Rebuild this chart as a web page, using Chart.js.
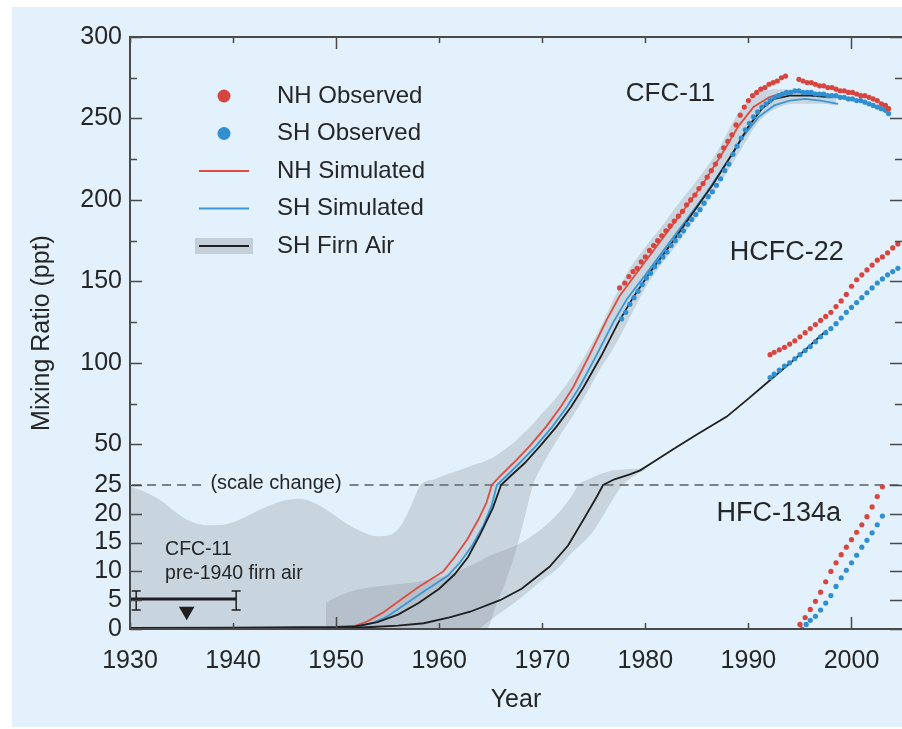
<!DOCTYPE html>
<html>
<head>
<meta charset="utf-8">
<title>Mixing Ratio (ppt)</title>
<script src="https://cdn.jsdelivr.net/npm/chart.js@4.4.1/dist/chart.umd.min.js"></script>
<style>
  html, body { margin: 0; padding: 0; background: #fff; overflow: hidden; }
  #wrap { width: 902px; height: 729px; }
</style>
</head>
<body>
<div id="wrap"><canvas id="chart" width="902" height="729"></canvas></div>
<script>
// ---- data: [year, ppt] ----
const cfc11NhObs = [
  [1977.5,146],[1978,149],[1978.4,153],[1978.8,156],[1979.2,158],[1979.6,162],[1980,165],[1980.4,169],
  [1980.8,172],[1981.2,175],[1981.6,178],[1982,181],[1982.4,184],[1982.8,187],[1983.2,190],[1983.6,193],
  [1984,197],[1984.4,200],[1984.8,203],[1985.2,207],[1985.6,210],[1986,214],[1986.4,218],[1986.8,222],
  [1987.2,227],[1987.6,232],[1988,236],[1988.4,240],[1988.8,246],[1989.2,252],[1989.6,257],[1990,261],
  [1990.4,264],[1990.8,266],[1991.2,268],[1991.6,269],[1992,271],[1992.4,272],[1992.8,273],[1993.2,275],
  [1993.6,276],[1994.9,274],[1995.3,273],[1995.7,272],[1996.1,272],[1996.5,271],[1996.9,270],[1997.3,270],
  [1997.7,269],[1998.1,269],[1998.5,268],[1998.9,267],[1999.3,267],[1999.7,266],[2000.1,266],[2000.5,265],
  [2000.9,264],[2001.3,264],[2001.7,263],[2002.1,262],[2002.5,261],[2002.9,259],[2003.3,258],[2003.6,256]
];
const cfc11ShObs = [
  [1977.7,127],[1978.1,131],[1978.5,136],[1978.9,140],[1979.3,144],[1979.7,148],[1980.1,152],[1980.5,155],
  [1980.9,159],[1981.3,162],[1981.7,165],[1982.1,168],[1982.5,172],[1982.9,175],[1983.3,178],[1983.7,181],
  [1984.1,185],[1984.5,188],[1984.9,191],[1985.3,194],[1985.7,198],[1986.1,202],[1986.5,205],[1986.9,209],
  [1987.3,213],[1987.7,218],[1988.1,222],[1988.5,228],[1988.9,233],[1989.3,238],[1989.7,243],[1990.1,247],
  [1990.5,251],[1990.9,254],[1991.3,257],[1991.7,259],[1992.1,261],[1992.5,263],[1992.9,264],[1993.3,265],
  [1993.7,266],[1994.1,266],[1994.5,267],[1994.9,267],[1995.3,266],[1995.7,266],[1996.1,266],[1996.5,265],
  [1996.9,265],[1997.3,265],[1997.7,264],[1998.1,264],[1998.5,264],[1998.9,263],[1999.3,263],[1999.7,262],
  [2000.1,262],[2000.5,261],[2000.9,261],[2001.3,260],[2001.7,259],[2002.1,258],[2002.5,257],[2002.9,256],
  [2003.3,255],[2003.6,253]
];
const cfc11NhSim = [
  [1950,0],[1951.5,0.35],[1953,1.3],[1954.5,2.8],[1956.2,5],[1958,7.3],[1960.4,10],[1961.5,12.5],
  [1962.7,15.5],[1963.8,19],[1964.6,22],[1965.1,25],[1966,31],[1967.2,38.5],[1968.8,49],[1970.4,61],
  [1971.8,73],[1973,85],[1974.6,105],[1976.3,127],[1977.5,141],[1979.5,158],[1981.5,175],[1983.5,192],
  [1985.5,209],[1987.5,229],[1989,245],[1990.5,257],[1992,263],[1993.5,266],[1995,266],[1996.5,265],[1998,264]
];
const cfc11ShSim = [
  [1950.5,0],[1952,0.3],[1953.5,1],[1955,2.2],[1956.7,4.3],[1958.5,6.5],[1960.8,9.2],[1962,11.5],
  [1963.2,14.5],[1964.3,18],[1965.1,21.5],[1965.6,25],[1966.6,31],[1967.8,38.5],[1969.4,49],[1971,61],
  [1972.4,73],[1973.6,85],[1975.2,104],[1976.9,125],[1978.2,139],[1980,154],[1982,171],[1984,188],
  [1986,205],[1988,224],[1989.5,239],[1991,251],[1992.5,258],[1994,261],[1995.5,262],[1997,261],[1998.7,259]
];
const cfc11ShFirn = [
  [1930,0.2],[1940,0.25],[1950,0.35],[1952,0.5],[1954,1.2],[1956,2.5],[1958,4.5],[1960,7],
  [1961.5,9.5],[1962.8,12.5],[1964,16.5],[1965.2,21],[1966,25],[1967,31],[1968.3,38.5],[1969.8,49],
  [1971.4,61],[1972.8,73],[1974,85],[1975.7,104],[1977.4,125],[1978.8,140],[1980.5,156],[1982.5,173],
  [1984.5,191],[1986.5,209],[1988.5,229],[1990,245],[1991.3,256],[1992.5,262],[1994,264],[1996,264],[1998,263]
];
const hcfc22ShFirn = [
  [1950,0.1],[1953,0.3],[1956,0.6],[1958.5,1],[1961,2],[1963,3],[1965.9,5],[1968,7],
  [1970.7,10.8],[1972.5,14.5],[1974,19],[1975.3,23],[1975.9,25],[1977,28.5],[1978.5,31.5],[1979.5,34],
  [1981,40],[1982.7,47],[1985,56],[1987.9,67],[1990,78],[1992.4,91],[1995,105],[1997.6,120]
];
const hcfc22NhObs = [
  [1992.1,105],[1992.5,106.5],[1993,108],[1993.5,109.5],[1994,111.5],[1994.5,113.5],[1995,116],[1995.5,118.5],
  [1996,121],[1996.5,123.5],[1997,126],[1997.5,128.5],[1998,131],[1998.5,134.5],[1999,138],[1999.5,142],
  [2000,147],[2000.5,151],[2001,154],[2001.5,157],[2002,160],[2002.5,163],[2003,165],[2003.5,167.5],
  [2004,170.5],[2004.5,173]
];
const hcfc22ShObs = [
  [1992.1,91],[1992.5,93],[1993,95.5],[1993.5,98],[1994,100],[1994.5,102.5],[1995,105],[1995.5,107.5],
  [1996,110],[1996.5,113],[1997,116],[1997.5,118.5],[1998,121],[1998.5,124],[1999,127.5],[1999.5,131],
  [2000,134],[2000.5,137],[2001,140],[2001.5,143],[2002,146],[2002.5,149],[2003,151.5],[2003.5,154],
  [2004,156],[2004.5,158]
];
const hfc134aNhObs = [
  [1995,0.8],[1995.5,2],[1996,3.4],[1996.5,4.8],[1997,6.4],[1997.5,8.2],[1998,10],[1998.5,11.5],
  [1999,12.9],[1999.5,14.2],[2000,15.5],[2000.5,16.8],[2001,18.1],[2001.5,19.5],[2002,21.2],[2002.5,23],[2003,24.7]
];
const hfc134aShObs = [
  [1995.2,0],[1995.6,0.8],[1996,1.5],[1996.5,2.2],[1997,3.3],[1997.5,4.5],[1998,5.8],[1998.5,7.4],
  [1999,8.9],[1999.5,10.2],[2000,11.5],[2000.5,12.8],[2001,14.2],[2001.5,15.4],[2002,16.7],[2002.5,18.1],[2003,19.6]
];
// firn air uncertainty envelopes: [year, low, high]
const cfc11FirnBand = [
  [1930,0,24.7],[1931.5,0,23.8],[1933,0,22.3],[1934.5,0,20.2],[1936,0,18.6],[1937.5,0,18],[1939,0,18.1],
  [1940.5,0,18.9],[1942,0,20.2],[1943.5,0,21.4],[1945,0,22.3],[1946.5,0,22.6],[1948,0,21.8],[1949.5,0,20.2],
  [1951,0,18.3],[1952.5,0,16.9],[1954,0,16.1],[1955.2,0,16.3],[1956.3,0,18],[1957.3,0,21.5],[1958.2,0,25],
  [1959.5,0,28.5],[1961,0,32],[1963,0,36.5],[1964.6,0,40],[1965.5,4,43],[1966.5,8.5,47.5],[1967.5,14,52.5],
  [1968.3,19.5,57.5],[1969.1,25,62.5],[1970,37,69],[1971,48,76],[1972.5,63,88],[1974,78,103],[1975.5,95,120],
  [1977,110,140],[1978.5,128,158],[1980,146,171],[1981.5,160,183],[1983,172,196],[1985,190,212],
  [1987,208,230],[1989,228,253],[1991,248,266],[1993,257,268],[1995,259,267],[1997,259,266],[1998.5,258,264]
];
const hcfc22FirnBand = [
  [1949,0,4.5],[1950,0,5.5],[1952,0,6.8],[1955,0,7.6],[1958,0,8.2],[1961,0,9.5],[1963.6,0,11.5],
  [1965,1.6,12.8],[1966.5,3.5,13.8],[1968,5.5,15],[1970,8.5,17.5],[1971.5,10.5,20],[1973,13.5,23.5],
  [1973.5,14.3,25],[1974.5,16,28.5],[1975.5,18.5,31.5],[1976.5,21.5,33.5],[1977.8,25,34.5],[1979,31,35],[1980,34.5,35]
];
// pre-1940 firn air upper limit for CFC-11
const pre1940Bar = [[1930, 5.2], [1940.3, 5.2]];
const pre1940Caps = [1930.6, 1940.3];
const pre1940CapRange = [3.3, 6.6];
const pre1940Marker = [[1935.5, 3.1]];
const scaleChangeDashes = [[1930.2, 1937.2], [1951.3, 2004.9]];

const xTickValues = [1930, 1940, 1950, 1960, 1970, 1980, 1990, 2000];
const xLongTicks = [1950, 2000];
const yTickValues = [0, 5, 10, 15, 20, 25, 50, 100, 150, 200, 250, 300];
const yMinorTicks = [75, 125, 175, 225, 275];

// ---- styles ----
const PANEL = '#e2f1fb';
const BAND = 'rgba(125,130,138,0.25)';
const NH_DOT = '#d8453e';
const SH_DOT = '#2f8fd0';
const NH_LINE = '#df4d40';
const SH_LINE = '#3a98d8';
const FIRN = '#1f1f1f';
const AXIS = '#4a4a4a';
const TEXT = '#262626';
const FONT = "'Liberation Sans', Arial, Helvetica, sans-serif";

// y axis: 0-25 stretched on the lower part, 25-300 above (scale change)
const BREAK_VALUE = 25;
const BREAK_FRACTION = 144 / 592;

class BrokenLinearScale extends Chart.LinearScale {
  getPixelForValue(value) {
    if (value === null || value === undefined || isNaN(value)) return NaN;
    let dec;
    if (value <= BREAK_VALUE) {
      dec = (value - this.min) / (BREAK_VALUE - this.min) * BREAK_FRACTION;
    } else {
      dec = BREAK_FRACTION + (value - BREAK_VALUE) / (this.max - BREAK_VALUE) * (1 - BREAK_FRACTION);
    }
    return this.getPixelForDecimal(dec);
  }
  getValueForPixel(pixel) {
    const dec = this.getDecimalForPixel(pixel);
    if (dec <= BREAK_FRACTION) return this.min + dec / BREAK_FRACTION * (BREAK_VALUE - this.min);
    return BREAK_VALUE + (dec - BREAK_FRACTION) / (1 - BREAK_FRACTION) * (this.max - BREAK_VALUE);
  }
}
BrokenLinearScale.id = 'brokenLinear';
BrokenLinearScale.defaults = Chart.LinearScale.defaults;
Chart.register(BrokenLinearScale);

const toXY = pairs => pairs.map(([x, y]) => ({ x, y }));

function dots(label, pairs, color) {
  return {
    label, data: toXY(pairs), showLine: false, order: 2,
    pointRadius: 2.6, pointBackgroundColor: color, pointBorderWidth: 0
  };
}
function curve(label, pairs, color, width, order) {
  return {
    label, data: toXY(pairs), borderColor: color, borderWidth: width,
    pointRadius: 0, tension: 0, fill: false, order
  };
}
function band(label, rows) {
  return [
    { label: label + ' high', data: rows.map(([x, , hi]) => ({ x, y: hi })), fill: '+1',
      backgroundColor: BAND, borderColor: 'transparent', borderWidth: 0, pointRadius: 0,
      cubicInterpolationMode: 'monotone', order: 30 },
    { label: label + ' low', data: rows.map(([x, lo]) => ({ x, y: lo })), fill: false,
      borderColor: 'transparent', borderWidth: 0, pointRadius: 0,
      cubicInterpolationMode: 'monotone', order: 30 }
  ];
}

const datasets = [
  ...band('CFC-11 firn', cfc11FirnBand),
  ...band('HCFC-22 firn', hcfc22FirnBand),
  ...scaleChangeDashes.map(([a, b]) => ({
    label: 'scale change', data: [{ x: a, y: BREAK_VALUE }, { x: b, y: BREAK_VALUE }],
    borderColor: '#7c8186', borderWidth: 2, borderDash: [9, 6], pointRadius: 0, order: 20
  })),
  curve('CFC-11 NH Simulated', cfc11NhSim, NH_LINE, 1.8, 10),
  curve('CFC-11 SH Simulated', cfc11ShSim, SH_LINE, 1.8, 9),
  curve('CFC-11 SH Firn Air', cfc11ShFirn, FIRN, 1.8, 8),
  curve('HCFC-22 SH Firn Air', hcfc22ShFirn, FIRN, 1.8, 8),
  dots('CFC-11 NH Observed', cfc11NhObs, NH_DOT),
  dots('CFC-11 SH Observed', cfc11ShObs, SH_DOT),
  dots('HCFC-22 NH Observed', hcfc22NhObs, NH_DOT),
  dots('HCFC-22 SH Observed', hcfc22ShObs, SH_DOT),
  dots('HFC-134a NH Observed', hfc134aNhObs, NH_DOT),
  dots('HFC-134a SH Observed', hfc134aShObs, SH_DOT),
  curve('pre-1940 bar', pre1940Bar, FIRN, 3, 1),
  ...pre1940Caps.map(x => ({
    label: 'pre-1940 cap', data: pre1940CapRange.map(y => ({ x, y })),
    borderColor: FIRN, borderWidth: 1.5, pointStyle: 'line', pointRadius: 4.5,
    pointBorderColor: FIRN, pointBorderWidth: 1.5, order: 1
  })),
  {
    label: 'pre-1940 limit', data: toXY(pre1940Marker), showLine: false,
    pointStyle: 'triangle', pointRotation: 180, pointRadius: 9,
    pointBackgroundColor: FIRN, pointBorderWidth: 0, order: 1
  }
];

// labels placed at data coordinates (left edge, vertical centre)
const annotations = [
  { text: 'CFC-11', x: 1978.1, y: 265, size: 26 },
  { text: 'HCFC-22', x: 1988.2, y: 167.4, size: 27 },
  { text: 'HFC-134a', x: 1986.9, y: 20.1, size: 27 },
  { text: '(scale change)', x: 1937.8, y: 25.8, size: 20 },
  { text: 'CFC-11', x: 1933.4, y: 13.7, size: 19.5 },
  { text: 'pre-1940 firn air', x: 1933.4, y: 9.7, size: 19.5 }
];

const legendRows = [
  { label: 'NH Observed', kind: 'dot', color: NH_DOT },
  { label: 'SH Observed', kind: 'dot', color: SH_DOT },
  { label: 'NH Simulated', kind: 'line', color: NH_LINE },
  { label: 'SH Simulated', kind: 'line', color: SH_LINE },
  { label: 'SH Firn Air', kind: 'band', color: FIRN }
];

const panelPlugin = {
  id: 'panel',
  beforeDraw(chart) {
    const { ctx, width, height } = chart;
    ctx.save();
    ctx.fillStyle = '#ffffff';
    ctx.fillRect(0, 0, width, height);
    ctx.fillStyle = PANEL;
    ctx.fillRect(12, 7, width - 12, height - 9);
    ctx.restore();
  }
};

// box round the plot with inward tick marks on all four sides
const framePlugin = {
  id: 'frame',
  afterDatasetsDraw(chart) {
    const { ctx, chartArea: a, scales: { x, y } } = chart;
    ctx.save();
    ctx.strokeStyle = AXIS;
    ctx.lineWidth = 2;
    ctx.strokeRect(a.left, a.top, a.right - a.left + 1, a.bottom - a.top);
    ctx.beginPath();
    const yTick = (v, len) => {
      const py = Math.round(y.getPixelForValue(v)) + 0.5;
      ctx.moveTo(a.left, py); ctx.lineTo(a.left + len, py);
      ctx.moveTo(a.right, py); ctx.lineTo(a.right - len, py);
    };
    yTickValues.forEach(v => yTick(v, 12));
    yMinorTicks.forEach(v => yTick(v, 7));
    xTickValues.forEach(v => {
      const px = Math.round(x.getPixelForValue(v)) + 0.5;
      const len = xLongTicks.includes(v) ? 12 : 6;
      ctx.moveTo(px, a.bottom); ctx.lineTo(px, a.bottom - len);
      ctx.moveTo(px, a.top); ctx.lineTo(px, a.top + len);
    });
    ctx.lineWidth = 1.5;
    ctx.stroke();
    ctx.restore();
  }
};

const textPlugin = {
  id: 'texts',
  afterDatasetsDraw(chart) {
    const { ctx, chartArea: a, scales: { x, y } } = chart;
    ctx.save();
    ctx.fillStyle = TEXT;
    ctx.textBaseline = 'middle';
    ctx.textAlign = 'left';
    annotations.forEach(t => {
      ctx.font = t.size + 'px ' + FONT;
      ctx.fillText(t.text, x.getPixelForValue(t.x), y.getPixelForValue(t.y));
    });

    // legend, top left inside the plot
    const markX = a.left + 94, textX = a.left + 147;
    ctx.font = '24px ' + FONT;
    legendRows.forEach((row, i) => {
      const ry = a.top + 59 + i * 37.5;
      if (row.kind === 'dot') {
        ctx.fillStyle = row.color;
        ctx.beginPath();
        ctx.arc(markX, ry, 6.5, 0, Math.PI * 2);
        ctx.fill();
      } else {
        if (row.kind === 'band') {
          ctx.fillStyle = 'rgba(125,130,138,0.3)';
          ctx.fillRect(markX - 29, ry - 8, 58, 16);
        }
        ctx.strokeStyle = row.color;
        ctx.lineWidth = row.kind === 'band' ? 2.2 : 2;
        ctx.beginPath();
        ctx.moveTo(markX - 25, ry); ctx.lineTo(markX + 25, ry);
        ctx.stroke();
      }
      ctx.fillStyle = TEXT;
      ctx.fillText(row.label, textX, ry);
    });
    ctx.restore();
  }
};

new Chart(document.getElementById('chart').getContext('2d'), {
  type: 'line',
  data: { datasets },
  options: {
    responsive: false,
    animation: false,
    events: [],
    // the plot runs right up to the picture's edge, so no padding for marker overflow
    layout: { autoPadding: false, padding: { top: 37, right: 0, left: 0, bottom: 0 } },
    plugins: { legend: { display: false }, tooltip: { enabled: false } },
    scales: {
      x: {
        type: 'linear', min: 1930, max: 2004.9,
        grid: { display: false, drawTicks: false },
        border: { display: false },
        ticks: { autoSkip: false, maxRotation: 0, padding: 17, color: TEXT,
                 font: { family: FONT, size: 25 }, callback: v => String(v) },
        title: { display: true, text: 'Year', color: TEXT,
                 font: { family: FONT, size: 25 }, padding: { top: 0, bottom: 14 } },
        afterBuildTicks: s => { s.ticks = xTickValues.map(v => ({ value: v })); },
        afterFit: s => { s.height = 100; s.paddingLeft = 0; s.paddingRight = 0; }
      },
      y: {
        type: 'brokenLinear', min: 0, max: 300,
        grid: { display: false, drawTicks: false },
        border: { display: false },
        ticks: { autoSkip: false, padding: 8, color: TEXT,
                 font: { family: FONT, size: 25 }, callback: v => String(v) },
        title: { display: true, text: 'Mixing Ratio (ppt)', color: TEXT,
                 font: { family: FONT, size: 25 }, padding: { top: 27, bottom: 0 } },
        afterBuildTicks: s => { s.ticks = yTickValues.map(v => ({ value: v })); },
        afterFit: s => { s.width = 130; }
      }
    }
  },
  plugins: [panelPlugin, framePlugin, textPlugin]
});
</script>
</body>
</html>
